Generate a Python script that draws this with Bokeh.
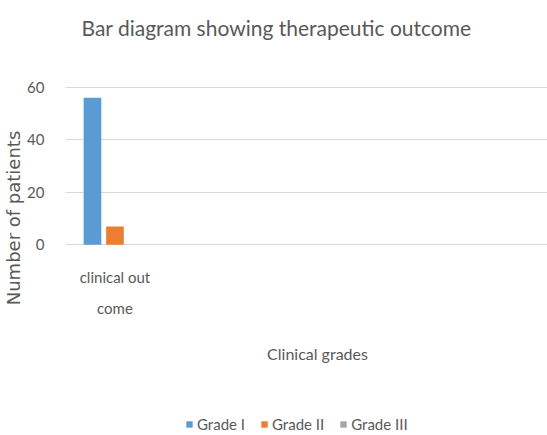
from bokeh.plotting import figure
from bokeh.models import (ColumnDataSource, Range1d, FixedTicker, Label, Legend, LegendItem)
from bokeh.transform import dodge
from bokeh.embed import file_html
from bokeh.resources import INLINE

# ---- data ----
categories = ["clinical out come"]
category_labels = ["clinical out\ncome"]
series_names = ["Grade I", "Grade II", "Grade III"]
grade_i = [56]
grade_ii = [7]
grade_iii = [0]
y_ticks = [0, 20, 40, 60]
title_text = "Bar diagram showing therapeutic outcome"
x_title = "Clinical grades"
y_title = "Number of patients"

colors = ["#5b9bd5", "#ed7d31", "#a5a5a5"]
FONT = "Lato"
GRAY = "#595959"

xpos = list(range(1, len(categories) + 1))
src = ColumnDataSource(dict(x=xpos, g1=grade_i, g2=grade_ii, g3=grade_iii))

W, H = 547, 435
p = figure(width=W, height=H, output_backend="svg", toolbar_location=None,
           x_range=Range1d(0.468, 5.651), y_range=Range1d(-72.6, 93.0),
           min_border_left=65, min_border_right=0, min_border_top=0, min_border_bottom=0)
p.outline_line_color = None

offs = [-0.242, 0.0, 0.242]
renderers = []
for key, off, c in zip(["g1", "g2", "g3"], offs, colors):
    r = p.vbar(x=dodge("x", off), top=key, bottom=0, width=0.19, source=src,
               fill_color=c, line_color=None)
    renderers.append(r)

# x axis drawn at y = 0 inside the plot area
p.xaxis.fixed_location = 0
p.xaxis.ticker = FixedTicker(ticks=xpos)
p.xaxis.major_label_overrides = {x: lab for x, lab in zip(xpos, category_labels)}
p.xaxis.axis_line_color = None
p.xaxis.major_tick_line_color = None
p.xaxis.minor_tick_line_color = None
p.xaxis.major_label_text_font = FONT
p.xaxis.major_label_text_font_size = "15px"
p.xaxis.major_label_text_color = GRAY
p.xaxis.major_label_text_line_height = 1.75
p.xaxis.major_label_standoff = 17

p.yaxis.ticker = FixedTicker(ticks=y_ticks)
p.yaxis.axis_line_color = None
p.yaxis.major_tick_line_color = None
p.yaxis.minor_tick_line_color = None
p.yaxis.major_label_text_font = FONT
p.yaxis.major_label_text_font_size = "15px"
p.yaxis.major_label_text_color = GRAY
p.yaxis.major_label_standoff = 15
p.yaxis.axis_label = y_title
p.yaxis.axis_label_text_font = "DejaVu Sans"
p.yaxis.axis_label_text_font_size = "18px"
p.yaxis.axis_label_text_font_style = "normal"
p.yaxis.axis_label_text_color = GRAY
p.yaxis.axis_label_standoff = 0

p.xgrid.grid_line_color = None
p.ygrid.grid_line_color = "#d9d9d9"
p.ygrid.grid_line_width = 1

# title and x title
p.add_layout(Label(x=276, y=27, x_units="canvas", y_units="canvas", text=title_text,
                   text_font=FONT, text_font_size="21px", text_color=GRAY,
                   text_align="center", text_baseline="middle"))
p.add_layout(Label(x=317, y=353, x_units="canvas", y_units="canvas", text=x_title,
                   text_font=FONT, text_font_size="16px", text_color=GRAY,
                   text_align="center", text_baseline="middle"))

legend = Legend(items=[LegendItem(label=n, renderers=[r]) for n, r in zip(series_names, renderers)],
                orientation="horizontal", location=(120, 2),
                border_line_color=None, background_fill_alpha=0,
                padding=0, margin=0, spacing=15, glyph_width=8, glyph_height=8,
                label_standoff=4, label_height=16,
                label_text_font=FONT, label_text_font_size="15px", label_text_color=GRAY)
p.add_layout(legend)

open("out.html", "w").write(file_html(p, INLINE))
